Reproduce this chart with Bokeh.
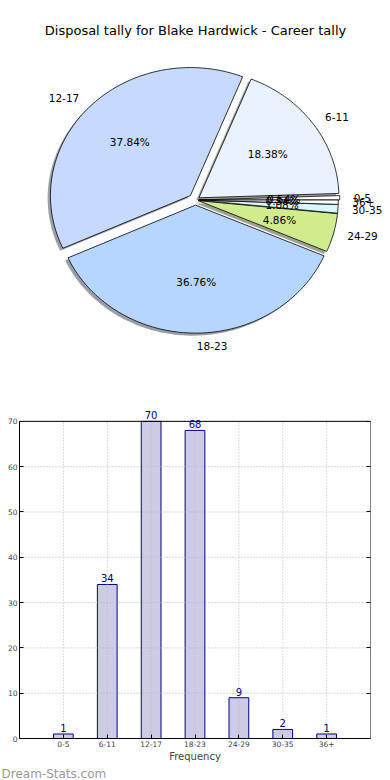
import numpy as np
from bokeh.plotting import figure
from bokeh.models import Range1d, ColumnDataSource, LabelSet, Title, FixedTicker, LinearAxis
from bokeh.core.properties import value
from bokeh.embed import file_html
from bokeh.resources import INLINE

# ---- data ----
categories = ["0-5", "6-11", "12-17", "18-23", "24-29", "30-35", "36+"]
counts = [1, 34, 70, 68, 9, 2, 1]
y_ticks = [0, 10, 20, 30, 40, 50, 60, 70]
title_text = "Disposal tally for Blake Hardwick - Career tally"

# ---- styles ----
slice_colors = ["#FFFFFF", "#EAF2FF", "#C6D9FF", "#B6D6FF", "#D0EC8C", "#D8F8FF", "#FFFFFF"]
explode = [0.03, 0.03, 0.05, 0.04, 0.02, 0.02, 0.02]
FONT = "DejaVu Sans"

# pie geometry in page pixels
CX, CY, RX, RY = 195.0, 199.5, 140.0, 128.0
FL, FR = 19, 370   # bar-chart frame left / right in page px

p1 = figure(width=390, height=380, x_range=Range1d(0, 390), y_range=Range1d(380, 0),
            x_axis_type=None, y_axis_type=None, output_backend="svg",
            toolbar_location=None, min_border=0)
p1.grid.visible = False
p1.outline_line_color = None

total = float(sum(counts))
fracs = np.array(counts) / total
cum = np.concatenate([[0.0], np.cumsum(fracs)]) * 360.0

wx, wy, sx, sy, scol = [], [], [], [], []
lab_x, lab_y, lab_t, lab_align = [], [], [], []
pct_x, pct_y, pct_t = [], [], []
for i, c in enumerate(categories):
    t1, t2 = cum[i], cum[i + 1]
    mid = np.radians((t1 + t2) / 2)
    e = explode[i]
    ox = CX + e * RX * np.cos(mid)
    oy = CY - e * RY * np.sin(mid)
    n = max(3, int(np.ceil((t2 - t1) / 1.0)) + 1)
    th = np.radians(np.linspace(t1, t2, n))
    xs = [ox] + list(ox + RX * np.cos(th))
    ys = [oy] + list(oy - RY * np.sin(th))
    wx.append(xs); wy.append(ys)
    sx.append([x - 0.02 * RX for x in xs]); sy.append([y + 0.02 * RY for y in ys])
    h = slice_colors[i].lstrip("#")
    rgb = [int(h[k:k + 2], 16) for k in (0, 2, 4)]
    scol.append("#%02x%02x%02x" % tuple(int(v * 0.3) for v in rgb))
    lab_x.append(ox + 1.1 * RX * np.cos(mid))
    lab_y.append(oy - 1.1 * RY * np.sin(mid))
    lab_t.append(c)
    lab_align.append("left" if np.cos(mid) > 0 else "right")
    pct_x.append(ox + 0.6 * RX * np.cos(mid))
    pct_y.append(oy - 0.6 * RY * np.sin(mid))
    pct_t.append("%1.2f%%" % (fracs[i] * 100))

p1.patches(xs=sx, ys=sy, fill_color=scol, fill_alpha=0.5, line_color=None)
p1.patches(xs=wx, ys=wy, fill_color=slice_colors, line_color="black", line_width=0.8)

p1.text(x=lab_x, y=lab_y, text=lab_t, text_align=lab_align, text_baseline="middle",
        text_font=value(FONT), text_font_size="10.5px", text_color="black")
p1.text(x=pct_x, y=pct_y, text=pct_t, text_align="center", text_baseline="middle",
        text_font=value(FONT), text_font_size="10.5px", text_color="black")
p1.text(x=[195], y=[30], text=[title_text], text_align="center", text_baseline="middle",
        text_font=value(FONT), text_font_size="13px", text_color="black")

# ---- bar chart ----
positions = list(range(len(categories)))
X0, X1 = -1, len(categories)
Y0, Y1 = 0, y_ticks[-1]
Y_VIEW = 73.5   # headroom above the box so the value label of the tallest bar shows

p2 = figure(width=390, height=400, x_range=Range1d(X0, X1), y_range=Range1d(Y0, Y_VIEW),
            output_backend="svg", toolbar_location=None,
            min_border_left=FL, min_border_right=390 - FR, min_border_top=25, min_border_bottom=40)
p2.grid.visible = False
p2.outline_line_color = None

p2.vbar(x=positions, top=counts, width=0.45, fill_color="#CCCCE6", line_color="#000080", line_width=1)

# dotted grid drawn over the bars, limited to the box
grid_kw = dict(line_color="#b8b8b8", line_dash="1 2", line_width=1)
p2.segment(x0=positions, y0=[Y0] * len(positions), x1=positions, y1=[Y1] * len(positions), **grid_kw)
p2.segment(x0=[X0] * len(y_ticks), y0=y_ticks, x1=[X1] * len(y_ticks), y1=y_ticks, **grid_kw)
# box
p2.quad(left=[X0], right=[X1], bottom=[Y0], top=[Y1], fill_color=None, line_color="black", line_width=1)

src = ColumnDataSource(dict(x=positions, y=counts, t=[str(v) for v in counts]))
p2.add_layout(LabelSet(x="x", y="y", text="t", source=src, text_align="center",
                       text_baseline="bottom", y_offset=2, text_color="#000080",
                       text_font=value(FONT), text_font_size="10px"))

p2.xaxis.ticker = FixedTicker(ticks=positions)
p2.xaxis.major_label_overrides = {i: c for i, c in enumerate(categories)}
p2.yaxis.ticker = FixedTicker(ticks=y_ticks)
p2.yaxis.bounds = (Y0, Y1)
right_ax = LinearAxis(ticker=FixedTicker(ticks=y_ticks), bounds=(Y0, Y1),
                      major_label_text_color=None, axis_line_color=None)
p2.add_layout(right_ax, "right")
for ax in (p2.xaxis[0], p2.yaxis[0], right_ax):
    ax.major_tick_in = 4
    ax.major_tick_out = 0
    ax.minor_tick_line_color = None
    ax.major_tick_line_color = "black"
    ax.major_label_text_font_size = "7.5px"
    ax.major_label_text_font = FONT
    ax.major_label_standoff = 2
p2.xaxis.axis_line_color = "black"
p2.yaxis[0].axis_line_color = "black"
p2.xaxis.axis_label = "Frequency"
p2.xaxis.axis_label_text_font = FONT
p2.xaxis.axis_label_text_font_size = "10px"
p2.xaxis.axis_label_text_font_style = "normal"
p2.xaxis.axis_label_standoff = 1
p2.add_layout(Title(text="Dream-Stats.com", align="left", offset=-18, standoff=0,
                    text_color="#999999", text_font=FONT, text_font_size="12px",
                    text_font_style="normal"), "below")

open("out.html", "w").write(file_html([p1, p2], INLINE))
